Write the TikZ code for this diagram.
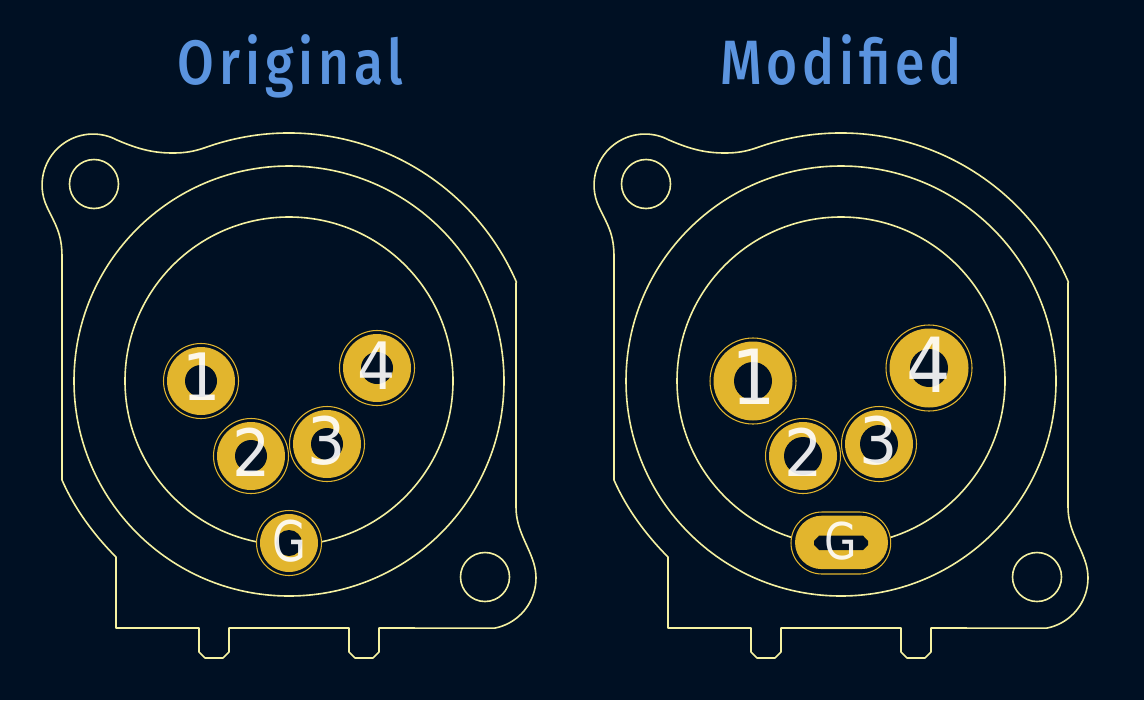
\documentclass[tikz,border=0pt]{standalone}
\usepackage{fontspec}
\newfontfamily\titlefont[LetterSpace=9]{Fira Sans Medium}
\newfontfamily\padfont{DejaVu Sans}
\definecolor{bgc}{HTML}{001023}
\definecolor{linec}{HTML}{F5F1A1}
\definecolor{cu}{HTML}{E2B52D}
\definecolor{titlec}{HTML}{5B94DF}
\tikzset{
  silk/.style={draw=linec,line width=1.2pt,line join=round},
  padring/.style={draw=cu,line width=0.8pt,fill=bgc},
  padcu/.style={fill=cu},
  padhole/.style={fill=bgc},
  padlabel/.style={text=white,text opacity=0.9,inner sep=0pt,anchor=center},
  titletext/.style={text=titlec,inner sep=0pt,anchor=base,xscale=0.85,font=\titlefont\fontsize{47}{50}\selectfont},
}
\newcommand{\bodyoutline}{%
  \draw[silk] (205.2,147.6) arc[start angle=-109.75,end angle=-23.5,radius=248]
    -- (516,283) -- (516,507)
    .. controls (516,530) and (528.5,545) .. (534,564)
    arc[start angle=-16,end angle=79,radius=51]
    -- (379,628) -- (379,652) -- (373,658) -- (355,658) -- (349,652) -- (349,628)
    -- (229,628) -- (229,652) -- (223,658) -- (205,658) -- (199,652) -- (199,628)
    -- (116,628) -- (116,557)
    .. controls (94,535) and (74.4,508.4) .. (62,480)
    -- (62,257)
    .. controls (62,233) and (55,224) .. (47.2,207.4)
    arc[start angle=154,end angle=298,radius=51]
    .. controls (140,150) and (155,153) .. (173,153)
    .. controls (185,153) and (194,151.5) .. (205.2,147.6) -- cycle;
  \draw[silk] (94,184) circle[radius=24.5];
  \draw[silk] (485,577) circle[radius=24.5];
  \draw[silk] (289,381) circle[radius=215];
  \draw[silk] (289,381) circle[radius=164];
}
% x y ringR cuR holeR
\newcommand{\padshape}[5]{%
  \fill[padring] (#1,#2) circle[radius=#3];
  \fill[padcu] (#1,#2) circle[radius=#4];
  \fill[padhole] (#1,#2) circle[radius=#5];
}
\begin{document}
\begin{tikzpicture}[x=0.75pt,y=-0.75pt]
\useasboundingbox (0,0) rectangle (1144,700);
\fill[bgc] (0,0) rectangle (1144,700);
\node[titletext] (t1) at (290.5,84) {Original};
\node[titletext] (t2) at (841,84) {Modif{}ied};
\bodyoutline
\begin{scope}[xshift=414pt]
\bodyoutline
\end{scope}
% Original pads
\padshape{201}{381}{37.5}{34}{16}
\padshape{377}{368}{37.5}{34}{16}
\padshape{251}{456}{37.5}{34}{16}
\padshape{327}{444}{37.5}{34}{16}
\padshape{289}{543}{32.5}{29}{13}
% Modified pads
\padshape{753}{381}{43}{39.5}{19}
\padshape{929}{368}{43}{39.5}{19}
\padshape{803}{456}{37.5}{34}{19}
\padshape{879}{444}{37.5}{34}{19}
\draw[padring] (822,512) arc[start angle=-90,end angle=-270,radius=31] -- (859.7,574) arc[start angle=90,end angle=-90,radius=31] -- cycle;
\fill[padcu] (821.7,515.7) arc[start angle=-90,end angle=-270,radius=26.7] -- (861.3,569.1) arc[start angle=90,end angle=-90,radius=26.7] -- cycle;
\fill[padhole] (819,535.7) -- (863,535.7) -- (868,541) -- (868,545) -- (863,550) -- (819,550) -- (814,545) -- (814,541) -- cycle;
% Labels
\tikzset{every node/.append style={padlabel,xscale=0.92,font=\padfont\fontsize{49}{50}\selectfont}}
\node (a1) at (202,377) {1};
\node (a2) at (252,452.5) {2};
\node (a3) at (327,441) {3};
\node (a4) at (377,365.5) {4};
\node[font=\padfont\fontsize{42}{50}\selectfont,xscale=0.85] (ag) at (289,541) {G};
\node[font=\padfont\fontsize{57}{50}\selectfont] (b1) at (754,377) {1};
\node[font=\padfont\fontsize{57}{50}\selectfont] (b4) at (929,365) {4};
\node (b2) at (804,452.5) {2};
\node (b3) at (879,441) {3};
\node[font=\padfont\fontsize{38}{50}\selectfont,xscale=0.9] (bg) at (841,541) {G};
\end{tikzpicture}
\end{document}
